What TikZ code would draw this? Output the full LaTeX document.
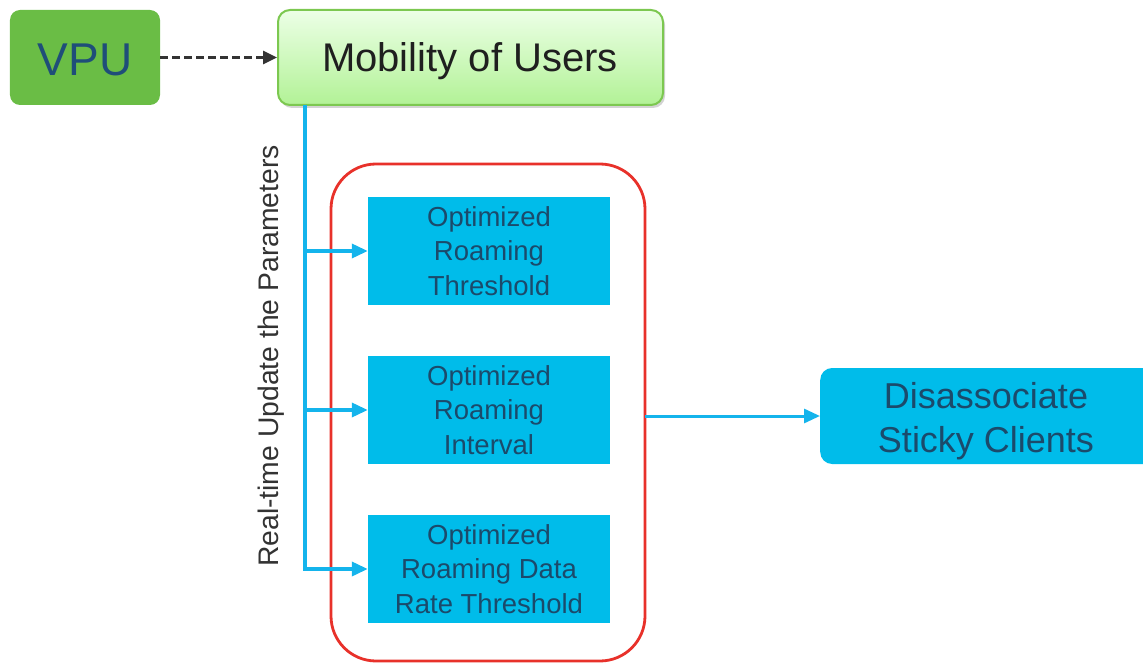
\documentclass[tikz,border=0pt]{standalone}
\usepackage{fontspec}
\setmainfont{Liberation Sans}
\usetikzlibrary{arrows.meta,shadows,calc}
\definecolor{vpugreen}{HTML}{6ABD45}
\definecolor{mobtop}{HTML}{ECFFE6}
\definecolor{mobbot}{HTML}{B2F296}
\definecolor{mobedge}{HTML}{7CC850}
\definecolor{cyanfill}{HTML}{00BCEA}
\definecolor{cyanline}{HTML}{14B4EC}
\definecolor{navytext}{HTML}{1B4A6B}
\definecolor{vputext}{HTML}{1F4E79}
\definecolor{redframe}{HTML}{E8312A}
\begin{document}
\begin{tikzpicture}[x=1bp,y=-1bp,
  fnt/.style 2 args={font=\fontsize{#1bp}{#2bp}\selectfont},
  parambox/.style={fill=cyanfill,draw=none,minimum width=242bp,minimum height=108bp,
    align=center,text=navytext,fnt={27.5}{34.5},inner sep=0pt},
  feed/.style={draw=cyanline,line width=3.5bp,-{Triangle[length=16bp,width=14bp]}},
]
\useasboundingbox (0,0) rectangle (1143,664);
\clip (0,0) rectangle (1143,664);

% source and monitored quantity
\node[fill=vpugreen,rounded corners=10bp,minimum width=150bp,minimum height=95bp,
  inner sep=0pt] (vpu) at (85,57.5) {};
\node[text=vputext,fnt={46}{55},inner sep=0pt] (vputxt) at (85,60) {VPU};
\node[draw=mobedge,line width=2bp,top color=mobtop,bottom color=mobbot,
  rounded corners=12bp,minimum width=385bp,minimum height=95bp,
  drop shadow={shadow xshift=2bp,shadow yshift=-3bp,opacity=0.35},
  inner sep=0pt] (mob) at (470.5,57.5) {};
\node[text=black!88,fnt={40}{48},inner sep=0pt] (mobtxt) at (470,61) {Mobility of Users};
\draw[draw=black!80,line width=3bp,dash pattern=on 8bp off 4bp,
  -{Triangle[length=14bp,width=13bp]}] (vpu.east) -- (mob.west);

% group of optimised roaming parameters
\draw[redframe,line width=2.8bp,rounded corners=45bp] (331,164) rectangle (645,661);
\coordinate (grpE) at (645,416);
\node[parambox] (thr) at (489,251) {Optimized\\Roaming\\Threshold};
\node[parambox] (ivl) at (489,410) {Optimized\\Roaming\\Interval};
\node[parambox] (drt) at (489,569) {Optimized\\Roaming Data\\Rate Threshold};

% update feed from the mobility estimate
\coordinate (tap) at (305,105);
\draw[feed] (tap) |- (thr.west);
\draw[feed] (tap) |- (ivl.west);
\draw[feed] (tap) |- (drt.west);
\node[rotate=90,text=black!80,fnt={28.3}{34},inner sep=0pt] (lbl) at (271,356)
  {Real-time Update the Parameters};

% outcome
\node[fill=cyanfill,rounded corners=12bp,minimum width=345bp,minimum height=96bp,
  anchor=west,inner sep=0pt] (dis) at (820,416) {};
\node[text=navytext,fnt={36}{44},align=center,inner sep=0pt] (distxt) at (986,421)
  {Disassociate\\Sticky Clients};
\draw[draw=cyanline,line width=3bp,-{Triangle[length=16bp,width=14bp]}] (grpE) -- (dis.west);
\end{tikzpicture}
\end{document}
